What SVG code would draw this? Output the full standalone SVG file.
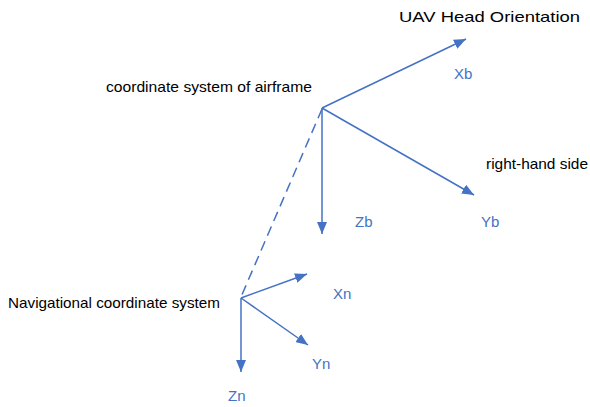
<svg xmlns="http://www.w3.org/2000/svg" width="590" height="407" viewBox="0 0 590 407">
  <style>
    .axis { stroke: #4472C4; stroke-width: 1.5; fill: none; }
    .dash { stroke: #4472C4; stroke-width: 1.5; fill: none; stroke-dasharray: 10 6; }
    .lbl { font-family: "Liberation Sans", Arial, sans-serif; font-size: 15px; fill: #000; }
    .ax { font-family: "Liberation Sans", Arial, sans-serif; font-size: 15px; fill: #4472C4; }
  </style>
  <defs>
    <marker id="arrow" viewBox="0 0 12 10" refX="12" refY="5" markerWidth="12" markerHeight="10" markerUnits="userSpaceOnUse" orient="auto">
      <path d="M0,0 L12,5 L0,10 Z" fill="#4472C4"/>
    </marker>
  </defs>
  <rect width="590" height="407" fill="#fff"/>

  <g id="connectors">
    <line class="dash" x1="322" y1="109" x2="241" y2="297"/>
    <!-- airframe frame -->
    <line class="axis" x1="322" y1="108" x2="466" y2="39" marker-end="url(#arrow)"/>
    <line class="axis" x1="322" y1="108" x2="474" y2="195" marker-end="url(#arrow)"/>
    <line class="axis" x1="322" y1="108" x2="322" y2="234" marker-end="url(#arrow)"/>
    <!-- navigational frame -->
    <line class="axis" x1="241" y1="298" x2="307" y2="274" marker-end="url(#arrow)"/>
    <line class="axis" x1="241" y1="298" x2="308" y2="345" marker-end="url(#arrow)"/>
    <line class="axis" x1="241" y1="298" x2="241" y2="372" marker-end="url(#arrow)"/>
  </g>

  <g id="airframe">
    <text class="lbl" x="106" y="92" textLength="206" lengthAdjust="spacingAndGlyphs">coordinate system of airframe</text>
    <text class="lbl" x="399" y="22" textLength="181" lengthAdjust="spacingAndGlyphs">UAV Head Orientation</text>
    <text class="lbl" x="486" y="169" textLength="102" lengthAdjust="spacingAndGlyphs">right-hand side</text>
    <text class="ax" x="454" y="79">Xb</text>
    <text class="ax" x="481" y="227">Yb</text>
    <text class="ax" x="355" y="227">Zb</text>
  </g>

  <g id="navigation">
    <text class="lbl" x="8" y="308" textLength="212" lengthAdjust="spacingAndGlyphs">Navigational coordinate system</text>
    <text class="ax" x="333" y="299">Xn</text>
    <text class="ax" x="312" y="369">Yn</text>
    <text class="ax" x="228" y="401">Zn</text>
  </g>
</svg>
